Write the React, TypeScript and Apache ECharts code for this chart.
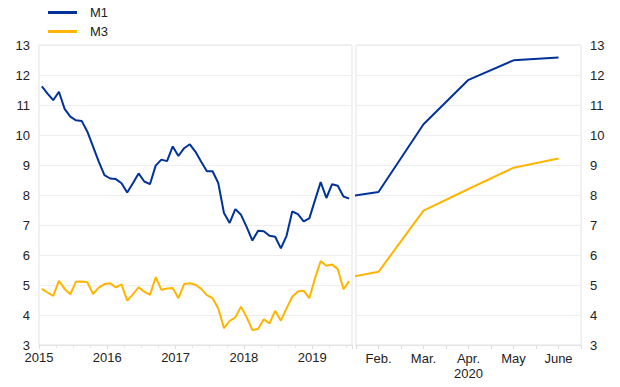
import React, { useEffect, useRef } from "react";
import * as echarts from "echarts";

// Monthly observations, Jan 2015 – Jul 2019 (annual growth, %)
const START_YEAR = 2015;
const M1_HIST = [
  11.62, 11.38, 11.16, 11.44, 10.87, 10.61, 10.49, 10.47, 10.11, 9.61, 9.11, 8.66,
  8.55, 8.53, 8.39, 8.08, 8.39, 8.72, 8.45, 8.36, 8.98, 9.18, 9.13, 9.62,
  9.3, 9.56, 9.69, 9.44, 9.11, 8.79, 8.79, 8.4, 7.4, 7.07, 7.53, 7.34,
  6.93, 6.48, 6.81, 6.79, 6.64, 6.61, 6.22, 6.64, 7.45, 7.36, 7.12, 7.22,
  7.83, 8.43, 7.9, 8.36, 8.31, 7.95, 7.88,
];
const M3_HIST = [
  4.87, 4.75, 4.64, 5.14, 4.87, 4.69, 5.11, 5.12, 5.09, 4.7, 4.91, 5.03,
  5.06, 4.92, 5.02, 4.48, 4.69, 4.92, 4.78, 4.67, 5.26, 4.84, 4.88, 4.9,
  4.56, 5.03, 5.06, 5.01, 4.87, 4.66, 4.56, 4.22, 3.56, 3.8, 3.92, 4.28,
  3.92, 3.5, 3.53, 3.86, 3.72, 4.14, 3.81, 4.22, 4.61, 4.78, 4.81, 4.56,
  5.22, 5.8, 5.64, 5.68, 5.53, 4.86, 5.13,
];

// 2020 panel (month number, Jan point is clipped by the panel edge)
const MONTHS_2020 = [1, 2, 3, 4, 5, 6];
const MONTH_LABELS: Record<number, string> = {
  2: "Feb.",
  3: "Mar.",
  4: "Apr.\n2020",
  5: "May",
  6: "June",
};
const M1_2020 = [7.87, 8.1, 10.36, 11.84, 12.49, 12.58];
const M3_2020 = [5.15, 5.44, 7.48, 8.2, 8.91, 9.22];

const Y_TICKS_MIN = 3;
const Y_TICKS_MAX = 13;

const BLUE = "#003299";
const YELLOW = "#FFB400";
const FONT = "Liberation Sans, Arial, sans-serif";
const TEXT = "#222222";
const GRID_LINE = "#eeeeee";
const BORDER = "#e3e3e3";

export default function App() {
  const ref = useRef<HTMLDivElement>(null);

  useEffect(() => {
    document.body.style.margin = "0";
    if (!ref.current) return;
    const chart = echarts.init(ref.current, undefined, { renderer: "svg" });

    const histM1 = M1_HIST.map((v, i) => [i + 0.5, v]);
    const histM3 = M3_HIST.map((v, i) => [i + 0.5, v]);
    const curM1 = MONTHS_2020.map((m, i) => [m, M1_2020[i]]);
    const curM3 = MONTHS_2020.map((m, i) => [m, M3_2020[i]]);

    const axisLabelBase = { color: TEXT, fontSize: 13, fontFamily: FONT };

    chart.setOption({
      animation: false,
      textStyle: { fontFamily: FONT },
      legend: {
        data: ["M1", "M3"],
        orient: "vertical",
        left: 48,
        top: 6,
        padding: 0,
        itemWidth: 29,
        itemHeight: 3,
        itemGap: 6,
        icon: "rect",
        textStyle: { color: TEXT, fontSize: 13, fontFamily: FONT, padding: [0, 0, 0, 8] },
      },
      grid: [
        {
          left: 39,
          top: 45,
          width: 313,
          height: 300,
          show: true,
          borderColor: BORDER,
          borderWidth: 1,
        },
        {
          left: 356,
          top: 45,
          width: 225,
          height: 300,
          show: true,
          borderColor: BORDER,
          borderWidth: 1,
        },
      ],
      xAxis: [
        {
          type: "value",
          gridIndex: 0,
          min: 0,
          max: M1_HIST.length,
          interval: 12,
          splitLine: { show: false },
          axisLine: { show: true, lineStyle: { color: BORDER } },
          axisTick: { show: true, length: 4, lineStyle: { color: "#dddddd" } },
          minorTick: { show: true, splitNumber: 4, length: 3, lineStyle: { color: "#e4e4e4" } },
          axisLabel: {
            ...axisLabelBase,
            margin: 6,
            showMaxLabel: false,
            formatter: (v: number) => (v % 12 === 0 ? String(START_YEAR + v / 12) : ""),
          },
        },
        {
          type: "value",
          gridIndex: 1,
          min: 1.5,
          max: 6.5,
          interval: 0.5,
          splitLine: { show: false },
          axisLine: { show: true, lineStyle: { color: BORDER } },
          axisTick: { show: true, length: 4, lineStyle: { color: "#dddddd" } },
          axisLabel: {
            ...axisLabelBase,
            margin: 6,
            lineHeight: 15,
            formatter: (v: number) => MONTH_LABELS[v] || "",
          },
        },
      ],
      yAxis: [
        {
          type: "value",
          gridIndex: 0,
          min: Y_TICKS_MIN,
          max: Y_TICKS_MAX,
          interval: 1,
          axisLine: { show: false },
          axisTick: { show: false },
          splitLine: { show: true, lineStyle: { color: GRID_LINE, width: 1 } },
          axisLabel: { ...axisLabelBase, margin: 9 },
        },
        {
          type: "value",
          gridIndex: 1,
          position: "right",
          min: Y_TICKS_MIN,
          max: Y_TICKS_MAX,
          interval: 1,
          axisLine: { show: false },
          axisTick: { show: false },
          splitLine: { show: true, lineStyle: { color: GRID_LINE, width: 1 } },
          axisLabel: { ...axisLabelBase, margin: 9 },
        },
      ],
      series: [
        {
          name: "M1",
          type: "line",
          xAxisIndex: 0,
          yAxisIndex: 0,
          data: histM1,
          showSymbol: false,
          lineStyle: { color: BLUE, width: 2 },
          itemStyle: { color: BLUE },
        },
        {
          name: "M3",
          type: "line",
          xAxisIndex: 0,
          yAxisIndex: 0,
          data: histM3,
          showSymbol: false,
          lineStyle: { color: YELLOW, width: 2 },
          itemStyle: { color: YELLOW },
        },
        {
          name: "M1",
          type: "line",
          xAxisIndex: 1,
          yAxisIndex: 1,
          data: curM1,
          clip: true,
          showSymbol: false,
          lineStyle: { color: BLUE, width: 2 },
          itemStyle: { color: BLUE },
        },
        {
          name: "M3",
          type: "line",
          xAxisIndex: 1,
          yAxisIndex: 1,
          data: curM3,
          clip: true,
          showSymbol: false,
          lineStyle: { color: YELLOW, width: 2 },
          itemStyle: { color: YELLOW },
        },
      ],
    });

    return () => chart.dispose();
  }, []);

  return <div ref={ref} style={{ width: 620, height: 387 }} />;
}
